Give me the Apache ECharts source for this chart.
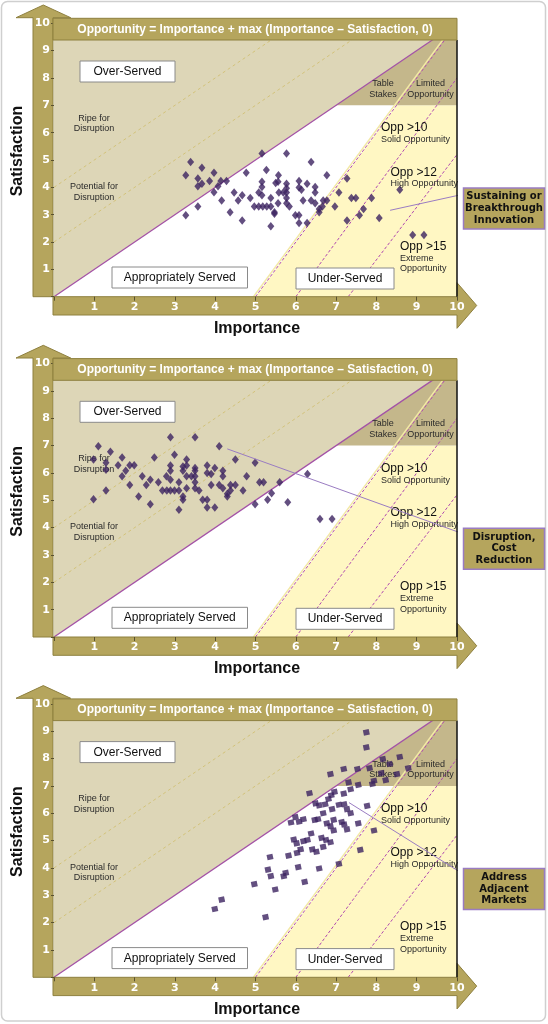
<!DOCTYPE html>
<html><head><meta charset="utf-8">
<script src="https://cdn.jsdelivr.net/npm/echarts@6/dist/echarts.min.js"></script>
<style>html,body{margin:0;padding:0;background:#fff}#c{width:548px;height:1024px}</style>
</head><body><div id="c"></div>
<script>
// ---- tick labels / axis ranges ----
const axisMin = 0, axisMax = 10, axisStep = 1;
const xTitle = 'Importance';
const yTitle = 'Satisfaction';
const headerText = 'Opportunity = Importance + max (Importance \u2013 Satisfaction, 0)';

// ---- region definitions (Importance, Satisfaction) ----
const overServedPoly = [[0,0],[10,10],[0,10]];
const underServedPoly = [[5,0],[8.5,7],[10,7],[10,0]];
const tableStakesPoly = [[7,7],[10,10],[10,7]];
const diagonalLine = [[0,0],[10,10]];
const opp10Line = [[5,0],[10,10]];
const opp12Line = [[6,0],[10,8]];
const opp15Line = [[7.3,0],[10,5.2]];
const faintLines = [[[0,2],[8,10]],[[0,4],[6,10]]];

// ---- callouts ----
const calloutTexts = ['Sustaining or\nBreakthrough\nInnovation', 'Disruption,\nCost\nReduction', 'Address\nAdjacent\nMarkets'];
const calloutLines = [
  [[8.34,3.16],[10.16,3.75]],
  [[4.30,6.88],[10.16,3.77]],
  [[7.32,6.39],[10.16,3.77]]
];

// ---- data: [Importance, Satisfaction] ----
const sustainingPoints = [[3.39,4.93],[3.27,4.44],[3.67,4.72],[3.97,4.53],[3.57,4.32],[3.57,4.04],[3.67,4.13],[3.86,4.23],[4.14,4.23],[4.28,4.23],[4.07,4.04],[3.97,3.82],[3.27,2.98],[3.57,3.30],[4.16,3.52],[4.37,3.09],[4.47,3.81],[4.57,3.52],[4.67,3.71],[4.67,2.79],[4.77,4.53],[4.87,3.61],[5.16,5.24],[5.27,4.63],[5.16,4.20],[5.16,4.01],[5.08,3.81],[5.16,3.71],[4.97,3.30],[5.08,3.30],[5.18,3.30],[5.28,3.30],[5.38,3.30],[5.38,3.61],[5.38,2.58],[5.47,3.09],[5.47,3.03],[5.50,4.16],[5.57,4.44],[5.56,4.20],[5.58,3.81],[5.56,3.42],[5.69,3.81],[5.77,5.24],[5.77,4.13],[5.77,3.97],[5.77,3.81],[5.77,3.61],[5.77,3.42],[5.84,3.30],[5.99,2.98],[6.08,4.23],[6.08,3.99],[6.14,3.91],[6.18,3.52],[6.08,2.98],[6.08,2.70],[6.28,4.13],[6.28,2.70],[6.38,4.93],[6.38,3.52],[6.48,4.01],[6.48,3.81],[6.48,3.42],[6.58,3.21],[6.58,3.09],[6.66,3.30],[6.68,3.52],[6.77,3.52],[6.77,4.44],[6.97,3.30],[7.07,3.81],[7.27,4.32],[7.27,2.79],[7.38,3.61],[7.49,3.61],[7.58,2.98],[7.68,3.21],[7.88,3.61],[8.07,2.88],[8.58,3.91],[8.90,2.26],[9.18,2.26]];

const disruptionPoints = [[0.98,5.04],[1.10,6.98],[0.98,6.49],[1.29,6.37],[1.40,6.78],[1.29,6.12],[1.29,5.36],[1.59,6.28],[1.69,6.57],[1.78,6.08],[1.69,5.88],[1.88,6.28],[1.99,6.28],[1.88,5.56],[2.10,5.14],[2.19,5.88],[2.29,5.56],[2.39,5.75],[2.39,4.86],[2.49,6.57],[2.59,5.66],[2.69,5.36],[2.80,5.36],[2.89,5.36],[2.99,5.36],[3.10,5.36],[2.79,5.88],[2.89,5.75],[2.89,7.31],[2.89,6.27],[2.89,6.08],[2.99,6.67],[3.10,5.66],[3.10,4.65],[3.20,6.24],[3.20,6.08],[3.20,5.14],[3.20,5.02],[3.29,6.49],[3.29,6.27],[3.29,5.88],[3.29,5.44],[3.41,5.88],[3.50,7.31],[3.50,6.18],[3.50,6.08],[3.50,5.88],[3.50,5.66],[3.50,5.44],[3.60,5.36],[3.69,5.02],[3.80,6.27],[3.80,6.00],[3.80,5.02],[3.80,4.74],[3.90,5.96],[3.90,5.56],[3.99,6.18],[3.99,4.74],[4.10,6.98],[4.10,5.56],[4.19,6.08],[4.19,5.88],[4.19,5.44],[4.30,5.24],[4.30,5.14],[4.38,5.56],[4.38,5.36],[4.50,5.56],[4.50,6.49],[4.69,5.36],[4.78,5.88],[4.99,6.37],[4.99,4.86],[5.10,5.66],[5.20,5.66],[5.30,5.02],[5.40,5.26],[5.60,5.66],[5.80,4.93],[6.29,5.96],[6.60,4.32],[6.90,4.32]];

const adjacentPoints = [[7.75,8.96],[7.75,8.41],[8.16,7.98],[8.58,8.06],[8.33,7.80],[8.79,7.65],[7.83,7.65],[7.53,7.62],[7.19,7.62],[6.86,7.43],[8.12,7.47],[8.51,7.43],[8.23,7.21],[7.94,7.19],[7.90,7.07],[7.55,7.04],[7.31,7.13],[6.34,6.73],[6.96,6.78],[6.88,6.66],[6.81,6.52],[6.73,6.33],[6.49,6.36],[7.19,6.72],[7.36,6.88],[7.07,6.31],[7.20,6.33],[7.27,6.15],[7.36,6.00],[6.58,6.29],[6.90,6.15],[7.77,6.27],[5.99,5.86],[5.88,5.66],[6.19,5.78],[6.47,5.76],[6.55,5.78],[6.68,6.00],[6.94,5.76],[6.77,5.63],[6.86,5.53],[6.94,5.37],[7.14,5.68],[7.20,5.59],[7.27,5.41],[7.55,5.63],[7.94,5.37],[6.08,5.69],[6.38,5.26],[5.95,5.04],[6.02,4.90],[6.12,4.68],[6.03,4.55],[6.19,4.98],[6.29,5.02],[6.41,4.68],[6.51,4.59],[6.64,5.10],[6.68,4.77],[6.75,5.02],[6.86,4.94],[5.82,4.45],[5.36,4.40],[5.31,3.94],[5.38,3.70],[5.70,3.70],[5.75,3.82],[6.06,4.03],[6.58,3.98],[7.07,4.15],[7.60,4.66],[6.22,3.49],[5.49,3.21],[4.97,3.41],[4.16,2.84],[3.99,2.50],[5.25,2.20]];

const panelData = [sustainingPoints, disruptionPoints, adjacentPoints];

// ---- layout / style ----
const PANEL_STEP = 340.3;
const GL = 54, GW = 403, GT = 23.3, GH = 273.4;
const BAND = '#B5A55D', BAND_STROKE = '#8E803F';
const DOT = '#3C2360';
const PURPLE = '#A352A6';

const chart = echarts.init(document.getElementById('c'), null, {renderer:'canvas'});

function regionRender(params, api) {
  const P = pts => pts.map(p => api.coord(p));
  const line = (pts, style) => ({type:'polyline', shape:{points:P(pts)}, style:Object.assign({fill:null}, style)});
  const creamA = api.coord(opp10Line[0]), creamB = api.coord(opp10Line[1]);
  return {type:'group', children:[
    {type:'polygon', shape:{points:P(overServedPoly)}, style:{fill:'#DDD6B7'}},
    {type:'polygon', shape:{points:P(underServedPoly)}, style:{fill:'#FFF7C3'}},
    {type:'polygon', shape:{points:P(tableStakesPoly)}, style:{fill:'#C4B78B'}},
    line(faintLines[0], {stroke:'#D2C27A', lineWidth:1, lineDash:[3,3]}),
    line(faintLines[1], {stroke:'#D2C27A', lineWidth:1, lineDash:[3,3]}),
    {type:'polyline', shape:{points:[[creamA[0]-2,creamA[1]],[creamB[0]-2,creamB[1]]]}, style:{fill:null, stroke:'#F3E9A6', lineWidth:1.5}},
    line(opp10Line, {stroke:'#B04AB0', lineWidth:1, lineDash:[3,2]}),
    line(opp12Line, {stroke:'#B04AB0', lineWidth:1, lineDash:[3,2]}),
    line(opp15Line, {stroke:'#B04AB0', lineWidth:1, lineDash:[3,2]}),
    line(diagonalLine, {stroke:PURPLE, lineWidth:1.3})
  ]};
}

const grids = [], xAxes = [], yAxes = [], series = [], graphics = [];
const tickFmt = v => v === 0 ? '' : String(v);

for (let k = 0; k < 3; k++) {
  const o = PANEL_STEP * k;
  grids.push({left:GL, top:GT + o, width:GW, height:GH, show:true, backgroundColor:'#ffffff', borderWidth:0});
  xAxes.push({gridIndex:k, type:'value', min:axisMin, max:axisMax, interval:axisStep, z:20,
    axisLine:{show:false}, splitLine:{show:false},
    axisTick:{show:true, length:4, lineStyle:{color:'#5a5230'}},
    axisLabel:{color:'#fff', fontWeight:'bold', fontSize:11, fontFamily:'DejaVu Sans', margin:5, formatter:tickFmt}});
  yAxes.push({gridIndex:k, type:'value', min:axisMin, max:axisMax, interval:axisStep, z:20,
    axisLine:{show:false}, splitLine:{show:false},
    axisTick:{show:true, length:3, lineStyle:{color:'#5a5230'}},
    axisLabel:{color:'#fff', fontWeight:'bold', fontSize:11, fontFamily:'DejaVu Sans', margin:4, formatter:tickFmt}});
  series.push({type:'custom', xAxisIndex:k, yAxisIndex:k, data:[[0,0]], renderItem:regionRender, clip:true, z:1, silent:true});
  series.push({type:'scatter', xAxisIndex:k, yAxisIndex:k, data:panelData[k], z:10,
    symbol: k === 2 ? 'rect' : 'diamond', symbolSize: k === 2 ? [6,5.5] : [7,8.5], symbolRotate: k === 2 ? 12 : 0,
    itemStyle:{color:DOT}, clip:false});
  series.push({type:'line', xAxisIndex:k, yAxisIndex:k, data:calloutLines[k], z:11, showSymbol:false, clip:false,
    lineStyle:{color:'#9A7CC2', width:1}, silent:true});

  // bands
  graphics.push({type:'polygon', z:3, shape:{points:[[33,296.7+o],[33,17.7+o],[16,17.7+o],[43.3,5+o],[70.7,17.7+o],[53,17.7+o],[53,296.7+o]]},
    style:{fill:BAND, stroke:BAND_STROKE, lineWidth:1}});
  graphics.push({type:'polygon', z:3, shape:{points:[[53,296.7+o],[457,296.7+o],[457,282.7+o],[476.7,305.5+o],[457,328.3+o],[457,315+o],[53,315+o]]},
    style:{fill:BAND, stroke:BAND_STROKE, lineWidth:1}});
  // header
  graphics.push({type:'rect', z:50, shape:{x:53, y:18.3+o, width:404, height:21.7}, style:{fill:BAND, stroke:BAND_STROKE, lineWidth:1}});
  graphics.push({type:'text', z:51, x:255, y:29.5+o, style:{text:headerText, fill:'#fff', font:'bold 12px "Liberation Sans", Arial', align:'center', verticalAlign:'middle'}});
  // right border
  graphics.push({type:'line', z:12, shape:{x1:457, y1:40+o, x2:457, y2:296.7+o}, style:{stroke:'#111', lineWidth:1.5}});
  // titles
  graphics.push({type:'text', z:30, x:17.5, y:151+o, rotation:Math.PI/2, style:{text:yTitle, fill:'#111', font:'bold 16px "Liberation Sans", Arial', align:'center', verticalAlign:'middle'}});
  graphics.push({type:'text', z:30, x:257, y:328.5+o, style:{text:xTitle, fill:'#111', font:'bold 16px "Liberation Sans", Arial', align:'center', verticalAlign:'middle'}});
  // white boxes
  const boxes = [['Over-Served',80,61,95],['Appropriately Served',112,267,135.5],['Under-Served',296,268,98]];
  boxes.forEach(b => {
    graphics.push({type:'rect', z:6, shape:{x:b[1], y:b[2]+o, width:b[3], height:21}, style:{fill:'#fff', stroke:'#8a8a8a', lineWidth:1}});
    graphics.push({type:'text', z:7, x:b[1]+b[3]/2, y:b[2]+10.8+o, style:{text:b[0], fill:'#111', font:'12px "Liberation Sans", Arial', align:'center', verticalAlign:'middle'}});
  });
  // small region labels
  const small = [
    ['Ripe for\nDisruption',94,123.5,'center'],['Potential for\nDisruption',94,192,'center'],
    ['Table\nStakes',383,89,'center'],['Limited\nOpportunity',430.5,89,'center'],
    ['Solid Opportunity',381,140,'left'],['High Opportunity',390.5,184,'left'],['Extreme\nOpportunity',400,263.5,'left']
  ];
  small.forEach(s => graphics.push({type:'text', z:5, x:s[1], y:s[2]+o, style:{text:s[0], fill:'#2a2a2a', font:'9px "Liberation Sans", Arial', lineHeight:10.7, align:s[3], verticalAlign:'middle'}}));
  const big = [['Opp >10',381,128],['Opp >12',390.5,172.3],['Opp >15',400,246.5]];
  big.forEach(s => graphics.push({type:'text', z:5, x:s[1], y:s[2]+o, style:{text:s[0], fill:'#111', font:'12px "Liberation Sans", Arial', align:'left', verticalAlign:'middle'}}));
  // callout box
  graphics.push({type:'rect', z:30, shape:{x:463.5, y:188+o, width:81, height:41}, style:{fill:BAND, stroke:'#9A7CC2', lineWidth:1.5}});
  graphics.push({type:'text', z:31, x:504, y:208.5+o, style:{text:calloutTexts[k], fill:'#111', font:'bold 10px "DejaVu Sans"', lineHeight:11.7, align:'center', verticalAlign:'middle'}});
}
// outer frame
graphics.push({type:'rect', z:0, shape:{x:1.5, y:1.5, width:544, height:1019.5, r:6}, style:{fill:null, stroke:'#cfcfcf', lineWidth:1.5}});

chart.setOption({
  animation:false,
  backgroundColor:'#ffffff',
  grid:grids, xAxis:xAxes, yAxis:yAxes, series:series,
  graphic:{elements:graphics}
});
</script></body></html>
